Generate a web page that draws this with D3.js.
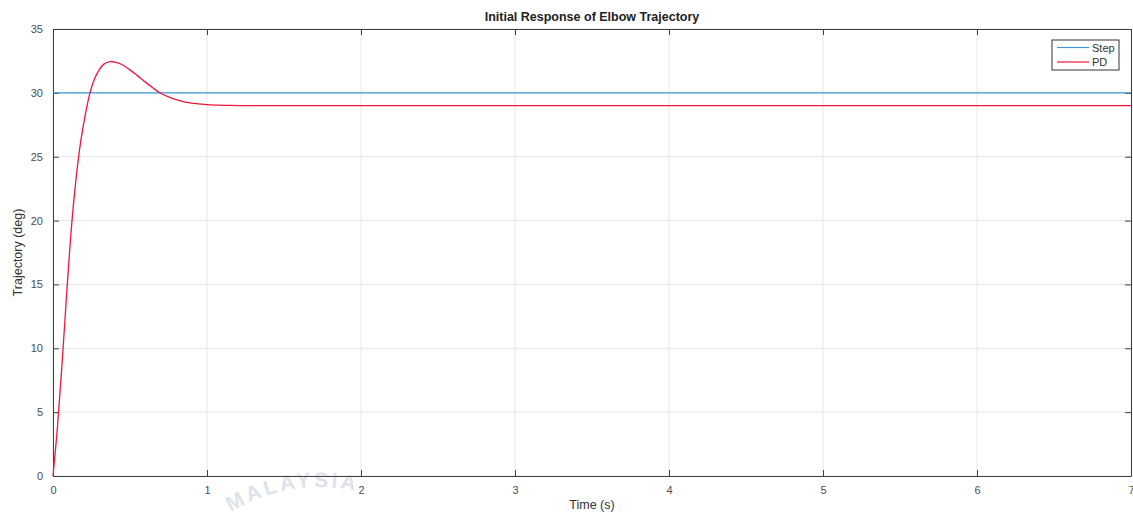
<!DOCTYPE html>
<html>
<head>
<meta charset="utf-8">
<script src="https://cdn.jsdelivr.net/npm/d3@7"></script>
<style>
  html, body { margin: 0; padding: 0; background: #fff; }
  svg { display: block; font-family: "Liberation Sans", Arial, sans-serif; }
</style>
</head>
<body>
<svg id="chart" width="1133" height="513"></svg>
<script>
// Time samples (s) and PD elbow response (deg)
const pdTime = [0, 0.03, 0.06, 0.09, 0.12, 0.15, 0.18, 0.21, 0.24, 0.27, 0.30, 0.33,
                0.37, 0.41, 0.45, 0.5, 0.55, 0.6, 0.65, 0.69, 0.75, 0.82, 0.9, 1.0,
                1.15, 1.3, 2, 3, 4, 5, 6, 7];
const pdAngle = [0, 4, 9, 14.5, 19.5, 23.3, 26.2, 28.3, 30, 31.1, 31.8, 32.25,
                 32.45, 32.38, 32.2, 31.8, 31.33, 30.84, 30.38, 30.03, 29.68, 29.4, 29.2, 29.08,
                 29.02, 29.0, 29.0, 29.0, 29.0, 29.0, 29.0, 29.0];
// Step reference
const stepTime = [0, 7];
const stepAngle = [30, 30];

const xTicks = [0, 1, 2, 3, 4, 5, 6, 7];
const yTicks = [0, 5, 10, 15, 20, 25, 30, 35];
const seriesNames = ["Step", "PD"];
const seriesColors = ["#3b98d6", "#f2153c"];

const svg = d3.select("#chart");
const margin = { left: 53, right: 2, top: 29, bottom: 37 };
const W = 1133, H = 513;

const x = d3.scaleLinear().domain([0, 7]).range([margin.left, W - margin.right]);
const y = d3.scaleLinear().domain([0, 35]).range([H - margin.bottom, margin.top]);

// faint seal lettering along an arc at the bottom
const wm = svg.append("g").attr("opacity", 0.2);
wm.append("path").attr("id", "wmArc")
  .attr("d", "M 228 514 A 170 170 0 0 1 385 500").attr("fill", "none");
wm.append("text").attr("font-size", 21).attr("font-weight", "bold").attr("fill", "#5d73a0")
  .attr("letter-spacing", 3)
  .append("textPath").attr("href", "#wmArc").attr("startOffset", "2%").text("MALAYSIA");

// grid
const grid = svg.append("g");
grid.selectAll("line.vx").data(xTicks).join("line")
  .attr("x1", d => x(d)).attr("x2", d => x(d))
  .attr("y1", y(0)).attr("y2", y(35))
  .attr("stroke", "#e6e6e6").attr("stroke-width", 1);
grid.selectAll("line.hy").data(yTicks).join("line")
  .attr("y1", d => y(d)).attr("y2", d => y(d))
  .attr("x1", x(0)).attr("x2", x(7))
  .attr("stroke", "#e6e6e6").attr("stroke-width", 1);

// axes
const xAxis = d3.axisBottom(x).tickValues(xTicks).tickFormat(d3.format("d"))
  .tickSizeInner(-6).tickSizeOuter(0).tickPadding(10);
const yAxis = d3.axisLeft(y).tickValues(yTicks).tickFormat(d3.format("d"))
  .tickSizeInner(-6).tickSizeOuter(0).tickPadding(10);
const gx = svg.append("g").attr("transform", `translate(0,${y(0)})`).call(xAxis);
const gy = svg.append("g").attr("transform", `translate(${x(0)},0)`).call(yAxis);
[gx, gy].forEach(g => {
  g.attr("color", "#4a4a4a");
  g.select(".domain").attr("stroke", "#404040");
  g.selectAll(".tick line").attr("stroke", "#404040");
  g.selectAll(".tick text").attr("fill", "#4d4d4d").attr("font-size", 11);
});
// top and right ticks (boxed axes)
const gxTop = svg.append("g").attr("transform", `translate(0,${y(35)})`)
  .call(d3.axisTop(x).tickValues(xTicks).tickSizeInner(-6).tickSizeOuter(0).tickFormat(""));
const gyRight = svg.append("g").attr("transform", `translate(${x(7)},0)`)
  .call(d3.axisRight(y).tickValues(yTicks).tickSizeInner(-6).tickSizeOuter(0).tickFormat(""));
[gxTop, gyRight].forEach(g => {
  g.select(".domain").attr("stroke", "#404040");
  g.selectAll(".tick line").attr("stroke", "#404040");
});

// lines
const line = d3.line().x(d => x(d[0])).y(d => y(d[1])).curve(d3.curveCatmullRom.alpha(0.5));
svg.append("path")
  .datum(stepTime.map((t, i) => [t, stepAngle[i]]))
  .attr("d", line).attr("fill", "none").attr("stroke", seriesColors[0]).attr("stroke-width", 1.2);
svg.append("path")
  .datum(pdTime.map((t, i) => [t, pdAngle[i]]))
  .attr("d", line).attr("fill", "none").attr("stroke", seriesColors[1]).attr("stroke-width", 1.3);

// title and axis labels
svg.append("text").attr("x", (x(0) + x(7)) / 2).attr("y", 21)
  .attr("text-anchor", "middle").attr("font-size", 12.5).attr("font-weight", "bold")
  .attr("fill", "#222").text("Initial Response of Elbow Trajectory");
svg.append("text").attr("x", (x(0) + x(7)) / 2).attr("y", 509)
  .attr("text-anchor", "middle").attr("font-size", 12.5).attr("fill", "#333").text("Time (s)");
svg.append("text").attr("transform", `translate(22,${(y(0) + y(35)) / 2}) rotate(-90)`)
  .attr("text-anchor", "middle").attr("font-size", 12.5).attr("fill", "#333").text("Trajectory (deg)");

// legend
const lg = svg.append("g").attr("transform", "translate(1052,40)");
lg.append("rect").attr("width", 67).attr("height", 30)
  .attr("fill", "#fff").attr("stroke", "#333").attr("stroke-width", 1);
seriesNames.forEach((name, i) => {
  const yy = 7.5 + i * 14.5;
  lg.append("line").attr("x1", 5).attr("x2", 37).attr("y1", yy).attr("y2", yy)
    .attr("stroke", seriesColors[i]).attr("stroke-width", 1.2);
  lg.append("text").attr("x", 40).attr("y", yy + 4).attr("font-size", 11)
    .attr("fill", "#333").text(name);
});
</script>
</body>
</html>
